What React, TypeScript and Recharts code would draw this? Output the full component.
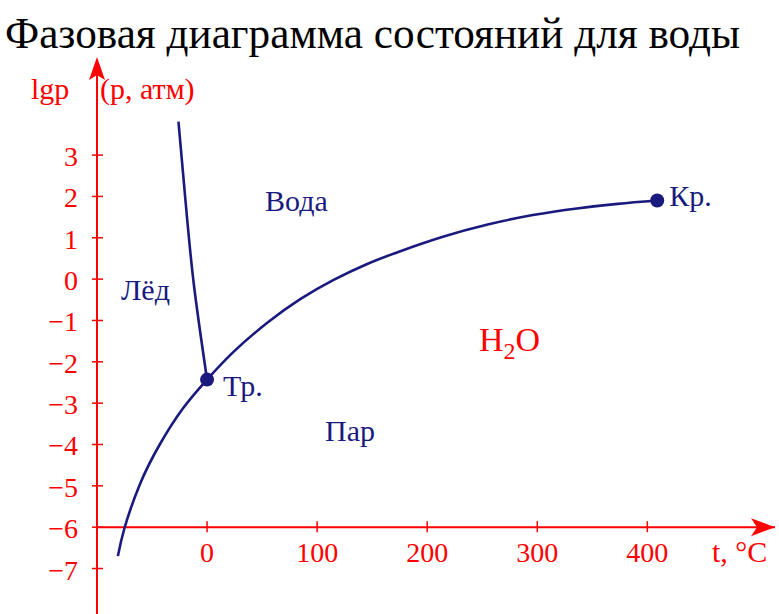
import React from 'react';
import { ComposedChart, Line, XAxis, YAxis, ReferenceLine, ReferenceDot } from 'recharts';

const W = 779;
const H = 614;
const RED = '#ff0000';
const NAVY = '#1a1a7e';
const FONT = '"Liberation Serif", "Times New Roman", serif';

// vaporization + sublimation curve (t, °C ; lg p)
const curveT = [-81, -75, -61, -43, -22, 0, 24, 55, 85, 115, 145, 175, 215, 255, 296, 336, 373, 409];
const curveP = [-6.7, -6.02, -4.96, -4.0, -3.13, -2.43, -1.76, -1.05, -0.48, -0.02, 0.36, 0.67, 1.03, 1.32, 1.55, 1.71, 1.82, 1.9];
// melting curve
const meltT = [-26, -19.5, -12, 0];
const meltP = [3.81, 1.87, -0.13, -2.43];

const xTicks = [0, 100, 200, 300, 400];
const yTicks = [-7, -6, -5, -4, -3, -2, -1, 0, 1, 2, 3];
const xDomain = [-100, 516];
const yDomain = [-8.1, 5.3];
const xAxisLevel = -6;

const tripleT = 0;
const tripleP = -2.43;
const criticalT = 409;
const criticalP = 1.9;

const curveData = curveT.map((t, i) => ({ t, p: curveP[i] }));
const meltData = meltT.map((t, i) => ({ t, p: meltP[i] }));

const fmt = (v: number) => (v < 0 ? `\u2212${-v}` : `${v}`);

const YTick = (props: any) => {
  const { x, y, payload } = props;
  return (
    <g>
      <line x1={x - 5} x2={x + 6} y1={y} y2={y} stroke={RED} strokeWidth={1.5} />
      <text x={x - 19} y={y} dy={11} textAnchor="end" fill={RED} fontSize={28} fontFamily={FONT}>
        {fmt(payload.value)}
      </text>
    </g>
  );
};

const XTickShape = (label: string) => (props: any) => {
  const { cx, cy } = props;
  return (
    <g>
      <line x1={cx} x2={cx} y1={cy - 6} y2={cy + 5} stroke={RED} strokeWidth={1.5} />
      <text x={cx} y={cy + 35} textAnchor="middle" fill={RED} fontSize={28} fontFamily={FONT}>
        {label}
      </text>
    </g>
  );
};

const UpArrow = (props: any) => {
  const { cx, cy } = props;
  return <path d={`M${cx},${cy - 3} L${cx - 8},${cy + 20} L${cx},${cy + 15} L${cx + 8},${cy + 20} Z`} fill={RED} />;
};

const RightArrow = (props: any) => {
  const { cx, cy } = props;
  return <path d={`M${cx},${cy} L${cx - 24},${cy - 9} L${cx - 18},${cy} L${cx - 24},${cy + 9} Z`} fill={RED} />;
};

const PointShape = (label: string, dx: number, dy: number) => (props: any) => {
  const { cx, cy } = props;
  return (
    <g>
      <circle cx={cx} cy={cy} r={7} fill={NAVY} />
      <text x={cx + dx} y={cy + dy} fill={NAVY} fontSize={30} fontFamily={FONT}>
        {label}
      </text>
    </g>
  );
};

export default function App() {
  return (
    <div style={{ position: 'absolute', left: 0, top: 0, width: W, height: H, background: '#fff' }}>
      <ComposedChart width={W} height={H} margin={{ top: 60, right: 4, bottom: 0, left: 0 }}>
        <XAxis dataKey="t" type="number" domain={xDomain} hide allowDataOverflow />
        <YAxis
          type="number"
          domain={yDomain}
          ticks={yTicks}
          width={97}
          allowDataOverflow
          axisLine={{ stroke: RED, strokeWidth: 2 }}
          tickLine={false}
          tickSize={0}
          tickMargin={0}
          tick={<YTick />}
          interval={0}
        />
        <ReferenceLine y={xAxisLevel} stroke={RED} strokeWidth={2} />
        {xTicks.map((t) => (
          <ReferenceDot key={t} x={t} y={xAxisLevel} r={0} shape={XTickShape(String(t))} />
        ))}
        <ReferenceDot x={xDomain[0]} y={yDomain[1]} r={0} shape={UpArrow} />
        <ReferenceDot x={xDomain[1]} y={xAxisLevel} r={0} shape={RightArrow} />
        <Line data={curveData} dataKey="p" type="natural" stroke={NAVY} strokeWidth={2.6} dot={false} isAnimationActive={false} />
        <Line data={meltData} dataKey="p" type="natural" stroke={NAVY} strokeWidth={2.6} dot={false} isAnimationActive={false} />
        <ReferenceDot x={tripleT} y={tripleP} r={7} shape={PointShape('Тр.', 16, 16)} />
        <ReferenceDot x={criticalT} y={criticalP} r={7} shape={PointShape('Кр.', 12, 5)} />
      </ComposedChart>
      <svg width={W} height={H} style={{ position: 'absolute', left: 0, top: 0, pointerEvents: 'none' }}>
        <text x={5} y={48} fontSize={44} fontFamily={FONT} fill="#000" textLength={735} lengthAdjust="spacingAndGlyphs">
          Фазовая диаграмма состояний для воды
        </text>
        <text x={31} y={99} fontSize={30} fontFamily={FONT} fill={RED}>lgp</text>
        <text x={100} y={99} fontSize={30} fontFamily={FONT} fill={RED}>(p, атм)</text>
        <text x={712} y={562} fontSize={30} fontFamily={FONT} fill={RED}>t, °C</text>
        <text x={265} y={211} fontSize={30} fontFamily={FONT} fill={NAVY}>Вода</text>
        <text x={121} y={300} fontSize={30} fontFamily={FONT} fill={NAVY}>Лёд</text>
        <text x={325} y={441} fontSize={30} fontFamily={FONT} fill={NAVY}>Пар</text>
        <text x={479} y={351} fontSize={34} fontFamily={FONT} fill={RED}>
          H<tspan fontSize={24} dy={8}>2</tspan><tspan dy={-8}>O</tspan>
        </text>
      </svg>
    </div>
  );
}
